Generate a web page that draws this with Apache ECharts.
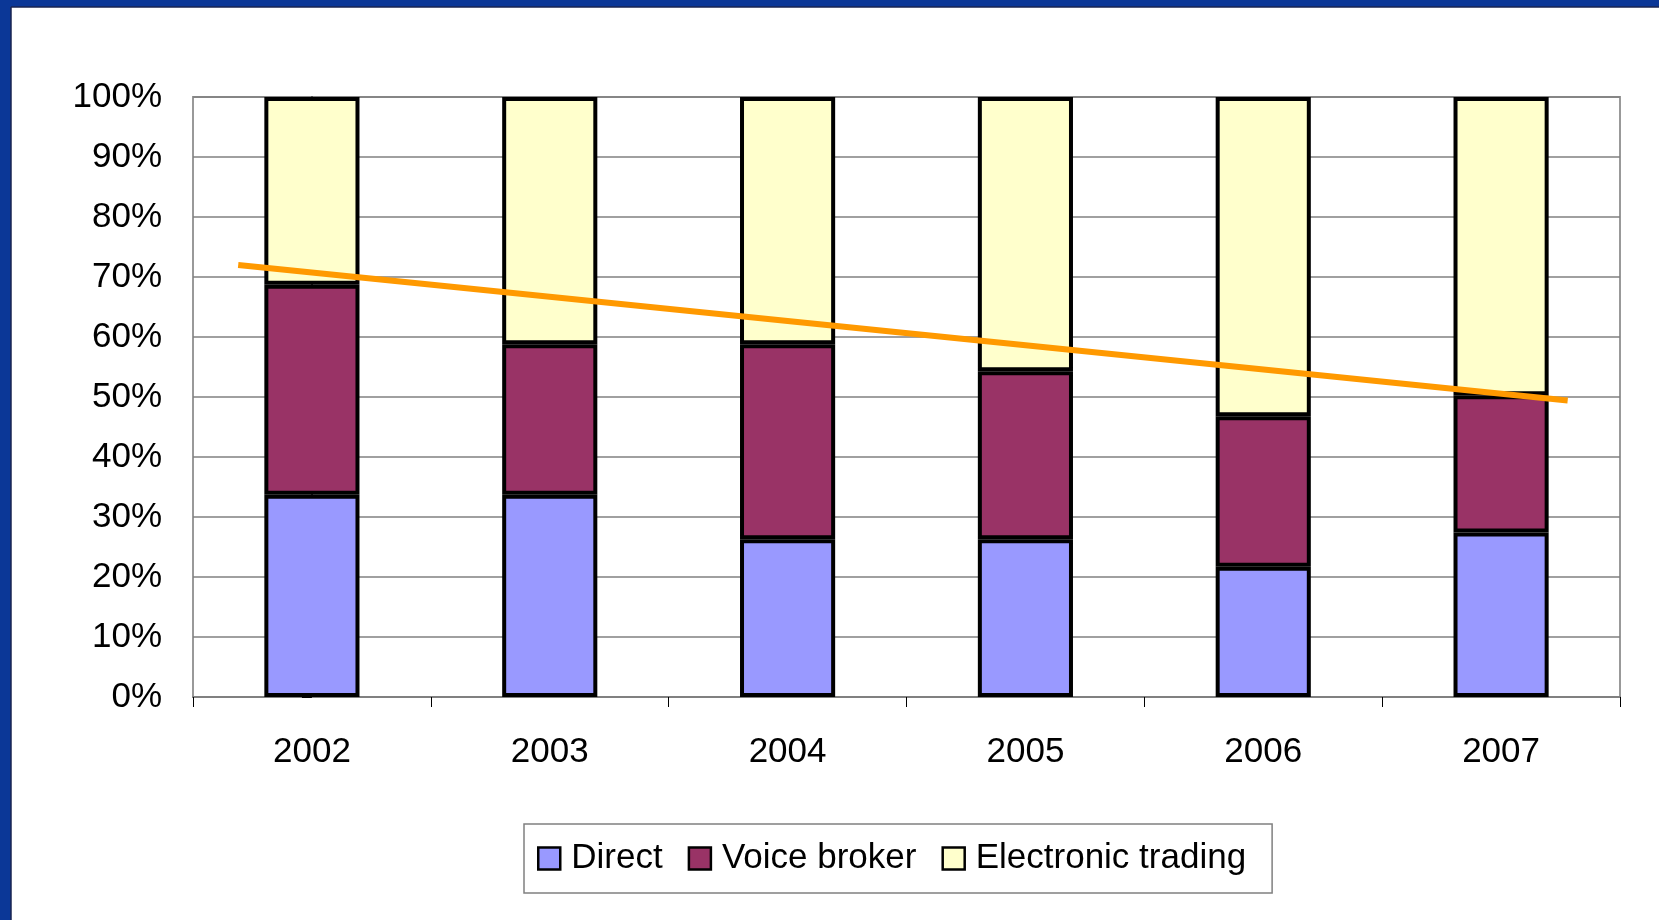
<!DOCTYPE html>
<html>
<head>
<meta charset="utf-8">
<script src="https://cdn.jsdelivr.net/npm/echarts@6/dist/echarts.min.js"></script>
<style>
html, body { margin: 0; padding: 0; background: #fff; }
#chart { width: 1659px; height: 920px; }
</style>
</head>
<body>
<div id="chart"></div>
<script>
// market share by channel, % of total
var years = ['2002', '2003', '2004', '2005', '2006', '2007'];
var direct = [33.7, 33.7, 26.3, 26.3, 21.7, 27.4];
var voiceBroker = [35.0, 25.1, 32.5, 28.0, 25.1, 22.9];
var electronic = [31.3, 41.2, 41.2, 45.7, 53.2, 49.7];
// trend line ends: [category position, %]
var trendLine = [[-0.31, 72.0], [5.28, 49.4]];

var font = 'Arial, "Liberation Sans", sans-serif';
var myChart = echarts.init(document.getElementById('chart'));

function barSeries(name, data, color) {
    return {
        name: name,
        type: 'bar',
        stack: 'total',
        barWidth: '40%',
        itemStyle: { color: color, borderColor: '#000', borderWidth: 4 },
        data: data
    };
}

var option = {
    animation: false,
    backgroundColor: '#fff',
    textStyle: { fontFamily: font },
    // blue slide frame on top and left
    graphic: [
        { type: 'rect', shape: { x: 0, y: 0, width: 1659, height: 7 }, style: { fill: '#0b3797' }, z: 100 },
        { type: 'rect', shape: { x: 0, y: 0, width: 11, height: 920 }, style: { fill: '#0b3797' }, z: 100 },
        { type: 'line', shape: { x1: 11, y1: 7, x2: 1659, y2: 7 }, style: { stroke: '#1a2450', lineWidth: 1.5 }, z: 100 },
        { type: 'line', shape: { x1: 11, y1: 7, x2: 11, y2: 920 }, style: { stroke: '#1a2450', lineWidth: 1.5 }, z: 100 }
    ],
    grid: {
        left: 193,
        right: 39,
        top: 97,
        bottom: 223,
        show: true,
        borderColor: '#999',
        borderWidth: 2
    },
    legend: {
        data: ['Direct', 'Voice broker', 'Electronic trading'],
        left: 524,
        top: 824,
        padding: [17, 26, 17, 13],
        itemGap: 25,
        itemWidth: 22,
        itemHeight: 22,
        icon: 'rect',
        borderColor: '#808080',
        borderWidth: 1.5,
        itemStyle: { borderColor: '#000', borderWidth: 2.5 },
        textStyle: { fontSize: 35, color: '#000', fontFamily: font, padding: [0, 0, 0, 6] }
    },
    xAxis: [{
        type: 'category',
        data: years,
        axisLine: { lineStyle: { color: '#808080', width: 2 } },
        axisTick: { show: true, length: 10, lineStyle: { color: '#000', width: 1 } },
        axisLabel: { fontSize: 35, color: '#000', margin: 38, fontFamily: font }
    }, {
        type: 'value',
        min: -0.5,
        max: 5.5,
        show: false
    }],
    yAxis: {
        type: 'value',
        min: 0,
        max: 100,
        interval: 10,
        axisLine: { show: true, lineStyle: { color: '#000', width: 1.5 } },
        axisTick: { show: true, length: 10, lineStyle: { color: '#000', width: 1 } },
        axisLabel: { fontSize: 35, color: '#000', margin: 31, formatter: '{value}%', fontFamily: font },
        splitLine: { show: true, lineStyle: { color: '#808080', width: 1.5 } }
    },
    series: [
        barSeries('Direct', direct, '#9999FF'),
        barSeries('Voice broker', voiceBroker, '#993366'),
        barSeries('Electronic trading', electronic, '#FFFFCC'),
        {
            name: 'trend',
            type: 'line',
            xAxisIndex: 1,
            symbol: 'none',
            z: 10,
            lineStyle: { color: '#FF9900', width: 6 },
            data: trendLine
        }
    ]
};

myChart.setOption(option);
</script>
</body>
</html>
